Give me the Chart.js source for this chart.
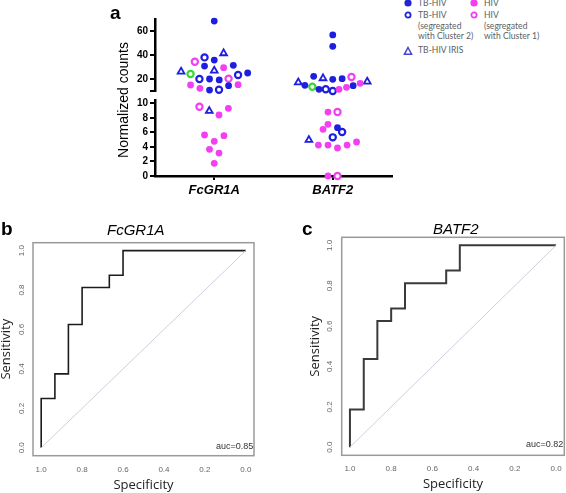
<!DOCTYPE html>
<html>
<head>
<meta charset="utf-8">
<script src="https://cdn.jsdelivr.net/npm/chart.js@4"></script>
<style>
  body { margin: 0; background: #fff; }
  #wrap { position: relative; width: 566px; height: 493px; overflow: hidden; font-family: "Liberation Sans", Arial, sans-serif; }
  canvas { position: absolute; }
  .txt { position: absolute; white-space: nowrap; line-height: 1; color: #000; }
  .leg { position: absolute; font-family: Lato, "Open Sans", sans-serif; font-size: 8.6px; line-height: 10.5px; color: #606060; white-space: nowrap; }
  .mk { position: absolute; }
</style>
</head>
<body>
<div id="wrap">
  <canvas id="chartA" width="300" height="200" style="left:100px;top:0px"></canvas>
  <canvas id="chartB" width="283" height="273" style="left:0px;top:220px"></canvas>
  <canvas id="chartC" width="281" height="273" style="left:285px;top:220px"></canvas>

  <!-- panel letters and titles -->
  <div class="txt" style="left:110px;top:3px;font-size:19px;font-weight:bold">a</div>
  <div class="txt" style="left:1px;top:219px;font-size:19px;font-weight:bold">b</div>
  <div class="txt" style="left:302px;top:219px;font-size:19px;font-weight:bold">c</div>
  <div class="txt" style="left:107px;top:222px;font-size:15px;font-style:italic">FcGR1A</div>
  <div class="txt" style="left:433px;top:221px;font-size:15px;font-style:italic">BATF2</div>
  <div class="txt" style="left:57.5px;top:92px;width:130px;text-align:center;font-size:14px;line-height:16px;transform:rotate(-90deg)">Normalized counts</div>
  <div class="txt" style="left:216px;top:442px;font-size:9px;color:#333">auc=0.85</div>
  <div class="txt" style="left:526px;top:440px;font-size:9px;color:#333">auc=0.82</div>

  <!-- legend -->
  <svg class="mk" style="left:403px;top:-2px" width="10" height="10"><circle cx="5" cy="5" r="3.6" fill="#2424d6"/></svg>
  <div class="leg" style="left:418px;top:-2px">TB-HIV</div>
  <svg class="mk" style="left:469px;top:-2px" width="10" height="10"><circle cx="5" cy="5" r="3.6" fill="#f23ff2"/></svg>
  <div class="leg" style="left:484px;top:-2px">HIV</div>
  <svg class="mk" style="left:403px;top:10px" width="10" height="10"><circle cx="5" cy="5" r="2.6" fill="#fff" stroke="#2424d6" stroke-width="1.8"/></svg>
  <div class="leg" style="left:418px;top:10px">TB-HIV<br>(segregated<br>with Cluster 2)</div>
  <svg class="mk" style="left:469px;top:10px" width="10" height="10"><circle cx="5" cy="5" r="2.6" fill="#fff" stroke="#f23ff2" stroke-width="1.8"/></svg>
  <div class="leg" style="left:484px;top:10px">HIV<br>(segregated<br>with Cluster 1)</div>
  <svg class="mk" style="left:403px;top:45.5px" width="10" height="10"><polygon points="5,1.5 8.6,8.3 1.4,8.3" fill="#fff" stroke="#4646cc" stroke-width="1.5"/></svg>
  <div class="leg" style="left:418px;top:45px">TB-HIV IRIS</div>
</div>

<script>
// =====================================
// DATA - panel a (x = gene slot 1/2 plus swarm offset)
// =====================================
const genes = ["FcGR1A", "BATF2"];

const tbHivX = [1.0, 1.0, 0.918, 1.161, 1.282, 0.96, 1.042, 0.96, 1.121,
                2.0, 2.0, 1.839, 2.0, 2.079, 1.765, 1.884, 2.172, 2.04];
const tbHivY = [68.3, 35.8, 30.8, 31.4, 25, 20, 19.2, 10.8, 14.4,
                56.7, 47.2, 22.2, 19.7, 20.3, 14.7, 11.4, 14.4, 6.65];

const tbHivSegX = [0.918, 1.201, 0.875, 1.04, 1.941, 2.0, 2.079, 2.0];
const tbHivSegY = [38, 23.3, 20, 11.1, 11.4, 10.0, 6.05, 5.32];

const irisX = [1.079, 0.72, 1.0, 0.958, 1.918, 1.709, 2.291, 1.799];
const irisY = [41.4, 26.1, 26.9, 8.94, 20.6, 17.2, 17.8, 4.95];

const hivX = [1.079, 0.8, 0.879, 1.201, 1.119, 1.04, 0.918, 1.082, 1.0, 0.96, 1.04, 1.0,
              2.053, 2.116, 2.231, 1.96, 1.96, 1.918, 1.879, 1.96, 2.04, 2.121, 2.201, 1.96];
const hivY = [29.4, 15, 12.2, 15.3, 9.31, 8.39, 5.64, 5.55, 4.77, 3.67, 3.16, 1.74,
              11.4, 13.1, 16.4, 8.8, 7.11, 6.42, 4.26, 4.26, 3.85, 4.26, 4.68, 0];

const hivSegX = [0.836, 1.121, 0.875, 2.158, 2.04, 2.04];
const hivSegY = [34.4, 20.3, 9.53, 21.7, 8.8, 0];

const greenX = [0.8, 1.828];
const greenY = [24.2, 13.6];

const topTicks = [10, 20, 40, 60];
const lowTicks = [0, 2, 4, 6, 8, 10];

// =====================================
// DATA - ROC curves (panels b, c)
// =====================================
const fcgrSpec = [1, 1, 0.933, 0.933, 0.867, 0.867, 0.8, 0.8, 0.667, 0.667, 0.6, 0.6, 0];
const fcgrSens = [0, 0.25, 0.25, 0.375, 0.375, 0.625, 0.625, 0.8125, 0.8125, 0.875, 0.875, 1, 1];

const batfSpec = [1, 1, 0.933, 0.933, 0.867, 0.867, 0.8, 0.8, 0.733, 0.733, 0.533, 0.533, 0.467, 0.467, 0];
const batfSens = [0, 0.1875, 0.1875, 0.4375, 0.4375, 0.625, 0.625, 0.6875, 0.6875, 0.8125, 0.8125, 0.875, 0.875, 1, 1];

const diagSpec = [1, 0];
const diagSens = [0, 1];
const rocTicks = [0, 0.2, 0.4, 0.6, 0.8, 1.0];

const BLUE = "#1e1ede";
const MAGENTA = "#f23ff2";
const GREEN = "#36d836";

// =====================================
// PANEL A - broken y axis (stacked scales)
// =====================================
function pts(xs, ys, top) {
  return xs.map((x, i) => ({ x, y: ys[i] })).filter(p => top ? p.y >= 10 : p.y < 10);
}

function group(xs, ys, style) {
  return [true, false].map(top => Object.assign({
    data: pts(xs, ys, top),
    yAxisID: top ? "yTop" : "yBot",
    clip: false
  }, style));
}

const filled = c => ({ pointStyle: "circle", pointRadius: 3.4, backgroundColor: c, borderColor: c, borderWidth: 0 });
const open = c => ({ pointStyle: "circle", pointRadius: 3.1, backgroundColor: "#fff", borderColor: c, borderWidth: 2.2 });

const datasetsA = [
  ...group(hivX, hivY, filled(MAGENTA)),
  ...group(tbHivX, tbHivY, filled(BLUE)),
  ...group(tbHivSegX, tbHivSegY, open(BLUE)),
  ...group(hivSegX, hivSegY, open(MAGENTA)),
  ...group(irisX, irisY, { pointStyle: "triangle", pointRadius: 3.9, backgroundColor: "#fff", borderColor: BLUE, borderWidth: 1.8 }),
  ...group(greenX, greenY, open(GREEN))
];

const tickFontA = { family: "Liberation Sans", size: 10, weight: "bold" };

function yAxisA(min, max, weight, ticks) {
  return {
    type: "linear", position: "left", stack: "a", stackWeight: weight,
    min: min, max: max,
    afterBuildTicks: ax => { ax.ticks = ticks.map(v => ({ value: v })); },
    ticks: { font: tickFontA, color: "#000", padding: 2, autoSkip: false, callback: v => (v === 10 && min === 10) ? "" : v },
    grid: { drawOnChartArea: false, color: "#000", tickLength: 5, lineWidth: 2 },
    border: { color: "#000", width: 2.5 },
    afterFit: s => { s.width = 55; }
  };
}

new Chart(document.getElementById("chartA"), {
  type: "scatter",
  data: { datasets: datasetsA },
  options: {
    responsive: false, animation: false, events: [],
    layout: { padding: { top: 19, right: 8, left: 0, bottom: 0 } },
    plugins: { legend: { display: false }, tooltip: { enabled: false } },
    scales: {
      x: {
        type: "linear", min: 0.5, max: 2.5,
        afterBuildTicks: ax => { ax.ticks = genes.map((g, i) => ({ value: i + 1 })); },
        ticks: { callback: v => genes[v - 1], autoSkip: false, font: { family: "Liberation Sans", size: 13, weight: "bold", style: "italic" }, color: "#000", padding: 3 },
        grid: { drawOnChartArea: false, color: "#000", tickLength: 4, lineWidth: 2 },
        border: { color: "#000", width: 2.5 },
        afterFit: s => { s.height = 24; }
      },
      yBot: yAxisA(0, 10.4, 75.6, lowTicks),
      yGap: {
        type: "linear", position: "left", stack: "a", stackWeight: 9.4, min: 0, max: 1,
        ticks: { display: false }, grid: { display: false }, border: { display: false },
        afterFit: s => { s.width = 55; }
      },
      yTop: yAxisA(10, 70, 72, topTicks)
    }
  }
});

// =====================================
// PANELS B, C - ROC curves
// =====================================
const framePlugin = {
  id: "frame",
  afterDraw(chart) {
    const { ctx, chartArea: a } = chart;
    ctx.save();
    ctx.strokeStyle = "#9a9a9a";
    ctx.lineWidth = 1.5;
    ctx.strokeRect(a.left, a.top, a.right - a.left, a.bottom - a.top);
    ctx.restore();
  }
};

function rocChart(canvasId, spec, sens, opt) {
  const tickFont = { family: "Liberation Sans", size: 8 };
  const titleFont = { family: "Open Sans", size: 13, lineHeight: 1 };
  return new Chart(document.getElementById(canvasId), {
    type: "scatter",
    data: {
      datasets: [
        { data: diagSpec.map((x, i) => ({ x, y: diagSens[i] })), showLine: true, borderColor: "#cfcfdc", borderWidth: 1, pointRadius: 0 },
        { data: spec.map((x, i) => ({ x, y: sens[i] })), showLine: true, borderColor: opt.lineColor, borderWidth: opt.lineWidth, pointRadius: 0 }
      ]
    },
    options: {
      responsive: false, animation: false, events: [],
      layout: { padding: opt.padding },
      plugins: { legend: { display: false }, tooltip: { enabled: false } },
      scales: {
        x: {
          type: "linear", reverse: true, min: -0.04, max: 1.04,
          afterBuildTicks: ax => { ax.ticks = rocTicks.map(v => ({ value: v })); },
          ticks: { callback: v => v.toFixed(1), autoSkip: false, font: tickFont, color: "#666", padding: opt.xTickPad, maxRotation: 0 },
          grid: { display: false }, border: { display: false },
          title: { display: true, text: "Specificity", font: titleFont, color: "#222", padding: { top: 0, bottom: opt.xTitlePad } },
          afterFit: s => { s.height = opt.xHeight; }
        },
        y: {
          type: "linear", min: -0.04, max: 1.04,
          afterBuildTicks: ax => { ax.ticks = rocTicks.map(v => ({ value: v })); },
          ticks: { callback: v => v.toFixed(1), autoSkip: false, font: tickFont, color: "#666", padding: opt.yTickPad, minRotation: 90, maxRotation: 90, crossAlign: "center" },
          grid: { display: false }, border: { display: false },
          title: { display: true, text: "Sensitivity", font: titleFont, color: "#222", padding: { top: opt.yTitlePad, bottom: 0 } },
          afterFit: s => { s.width = opt.yWidth; }
        }
      }
    },
    plugins: [framePlugin]
  });
}

rocChart("chartB", fcgrSpec, fcgrSens, {
  padding: { top: 22.7, right: 29, left: 0, bottom: 0 },
  yWidth: 33, xHeight: 37.3, xTickPad: 1, yTickPad: -2.5, xTitlePad: 0.8, yTitlePad: 0,
  lineColor: "#1c1c1c", lineWidth: 1.6
});

rocChart("chartC", batfSpec, batfSens, {
  padding: { top: 17.3, right: 1.7, left: 0, bottom: 0 },
  yWidth: 56.7, xHeight: 37.7, xTickPad: 1, yTickPad: -1.3, xTitlePad: 2.5, yTitlePad: 24,
  lineColor: "#3a3a3a", lineWidth: 2
});
</script>
</body>
</html>
